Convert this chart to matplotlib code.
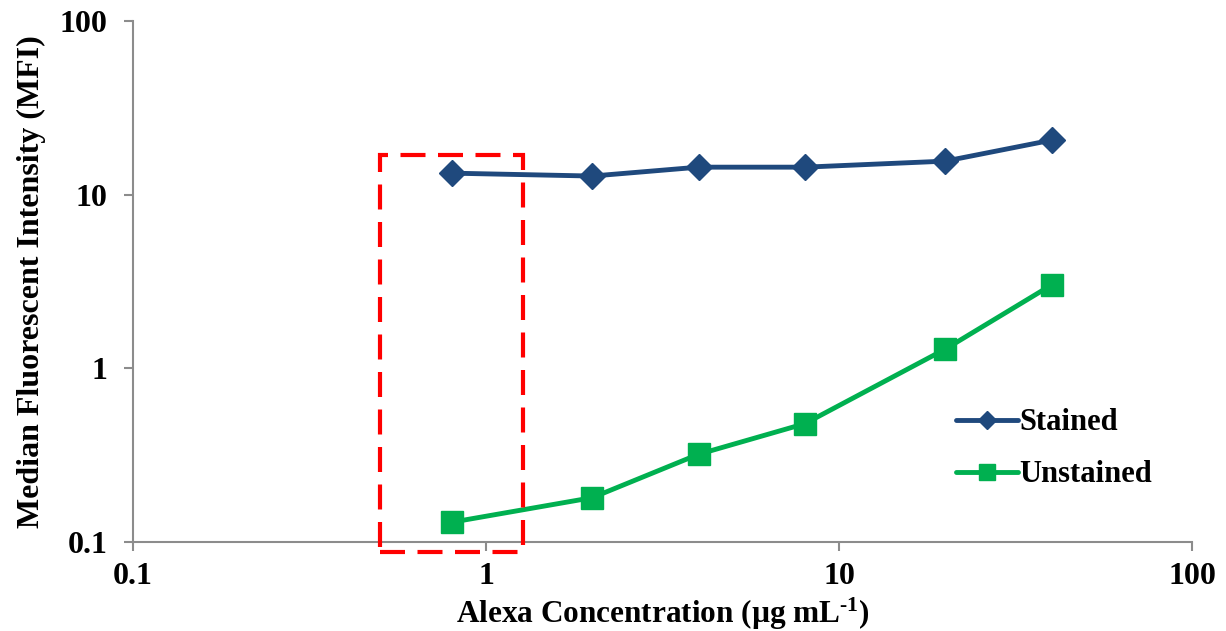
import matplotlib
matplotlib.use("Agg")
import matplotlib.pyplot as plt
from matplotlib.patches import Rectangle

# Alexa concentration (µg/mL) and median fluorescent intensity
concentration = [0.8, 2, 4, 8, 20, 40]
stained = [13.3, 12.8, 14.4, 14.4, 15.6, 20.6]
unstained = [0.13, 0.18, 0.32, 0.48, 1.29, 3.02]

x_ticks = [0.1, 1, 10, 100]
x_tick_labels = ["0.1", "1", "10", "100"]
y_ticks = [0.1, 1, 10, 100]
y_tick_labels = ["0.1", "1", "10", "100"]

# highlighted region (lowest concentration)
box_x = [0.5, 1.27]
box_y = [0.0877, 16.9]

plt.rcParams["font.family"] = ["Liberation Serif", "DejaVu Serif"]
plt.rcParams["font.weight"] = "bold"
plt.rcParams["mathtext.fontset"] = "custom"
plt.rcParams["mathtext.rm"] = "Liberation Serif:bold"
plt.rcParams["mathtext.bf"] = "Liberation Serif:bold"
plt.rcParams["mathtext.it"] = "Liberation Serif:bold:italic"

fig = plt.figure(figsize=(12.26, 6.31), dpi=100)
ax = fig.add_axes([133 / 1226, 1 - 542 / 631, (1192 - 133) / 1226, (542 - 21) / 631])

blue = "#1F497D"
green = "#00B050"

ax.plot(concentration, stained, color=blue, lw=3.5, marker="D", ms=13,
        solid_capstyle="round", label="Stained", zorder=3)
ax.plot(concentration, unstained, color=green, lw=3.5, marker="s", ms=16,
        solid_capstyle="round", label="Unstained", zorder=3)

ax.set_xscale("log")
ax.set_yscale("log")
ax.set_xlim(0.1, 100)
ax.set_ylim(0.1, 100)
ax.set_xticks(x_ticks)
ax.set_xticklabels(x_tick_labels)
ax.set_yticks(y_ticks)
ax.set_yticklabels(y_tick_labels)
ax.minorticks_off()

for side in ["top", "right"]:
    ax.spines[side].set_visible(False)
for side in ["left", "bottom"]:
    ax.spines[side].set_color("#8C8C8C")
    ax.spines[side].set_linewidth(1.5)

ax.tick_params(axis="both", which="major", direction="out", length=6.5,
               width=1.5, color="#8C8C8C", labelsize=23)
ax.tick_params(axis="y", pad=12)
ax.tick_params(axis="x", pad=8)
for lbl in ax.get_xticklabels() + ax.get_yticklabels():
    lbl.set_fontweight("bold")

ax.set_xlabel("Alexa Concentration (µg mL$^{\\text{-1}}$)", fontsize=22.5,
              fontweight="bold", labelpad=3)
ax.set_ylabel("Median Fluorescent Intensity (MFI)", fontsize=23,
              fontweight="bold", labelpad=10)

rect = Rectangle((box_x[0], box_y[0]), box_x[1] - box_x[0], box_y[1] - box_y[0],
                 fill=False, edgecolor="#FF0000", lw=3.0, linestyle=(0, (6, 3)),
                 clip_on=False, zorder=4)
ax.add_patch(rect)

leg = ax.legend(loc="center left", bbox_to_anchor=(0.766, 0.179), frameon=False,
                fontsize=22, handlelength=2.0, handletextpad=0.05,
                labelspacing=0.75, markerscale=0.7, borderaxespad=0)
for t in leg.get_texts():
    t.set_fontweight("bold")

fig.savefig("out.png", dpi=100)
